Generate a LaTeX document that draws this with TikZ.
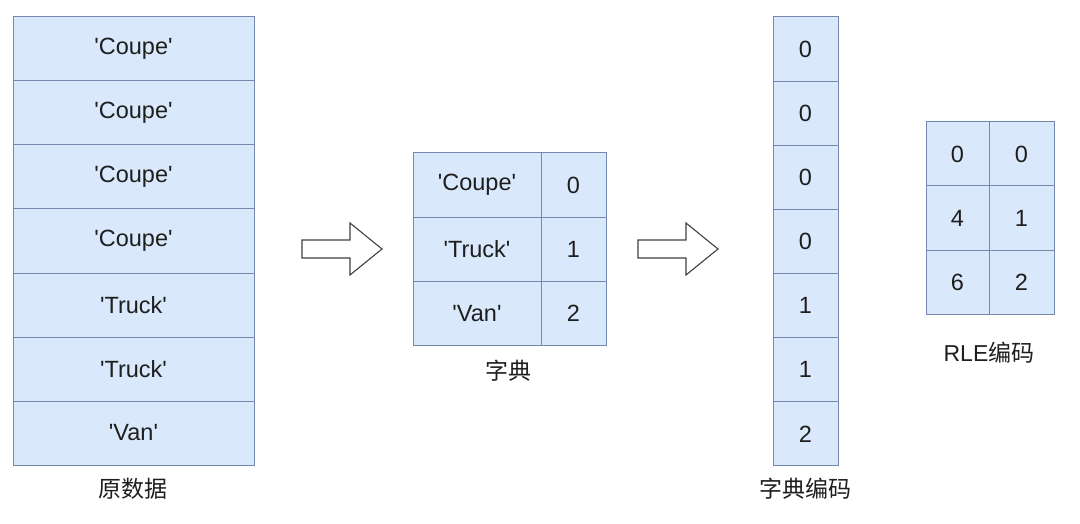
\documentclass[tikz,border=0pt]{standalone}
\usepackage{fontspec}
\setmainfont{Liberation Sans}
\newfontfamily\cjk{Noto Sans CJK SC}
\definecolor{cellfill}{HTML}{DAE8FC}
\definecolor{cellline}{HTML}{7389AD}
\definecolor{txt}{HTML}{1E1E1E}
\newcommand{\sq}{\textquotesingle}
\begin{document}
\begin{tikzpicture}[x=1pt,y=-1pt,
  cell/.style={draw=cellline, fill=cellfill, line width=1pt, minimum height=64pt,
    inner sep=0pt, outer sep=0pt, text=txt, font=\fontsize{23.5}{27}\selectfont},
  lbl/.style={text=txt, inner sep=0pt, font=\fontsize{23}{27}\selectfont},
  bigarrow/.style={draw=black!75, fill=white, line width=1.1pt, line join=miter}]
\useasboundingbox (0,0) rectangle (1080,524);
% original data column
\foreach \t [count=\i] in {Coupe,Coupe,Coupe,Coupe,Truck,Truck,Van} {
  \node[cell, minimum width=241pt] (raw\i) at (133.5, {17+64*(\i-1)+32}) {\sq\t\sq};
}
\node[lbl] (rawlbl) at (133, 489) {\cjk 原数据};
% arrow 1
\draw[bigarrow] (302,240) -- (350,240) -- (350,223) -- (382,249) -- (350,275) -- (350,258) -- (302,258) -- cycle;
% dictionary
\foreach \k/\v [count=\i] in {Coupe/0,Truck/1,Van/2} {
  \node[cell, minimum width=128pt, minimum height=64.3pt] (dk\i) at (477, {153+64.3*(\i-1)+32.15}) {\sq\k\sq};
  \node[cell, minimum width=65pt, minimum height=64.3pt] (dv\i) at (573.5, {153+64.3*(\i-1)+32.15}) {\v};
}
\node[lbl] (dictlbl) at (508, 371) {\cjk 字典};
% arrow 2
\draw[bigarrow] (638,240) -- (686,240) -- (686,223) -- (718,249) -- (686,275) -- (686,258) -- (638,258) -- cycle;
% dictionary encoding column
\foreach \v [count=\i] in {0,0,0,0,1,1,2} {
  \node[cell, minimum width=65pt, minimum height=64.14pt] (enc\i) at (805.5, {17+64.14*(\i-1)+32.07}) {\v};
}
\node[lbl] (enclbl) at (805, 489) {\cjk 字典编码};
% RLE table
\foreach \a/\b [count=\i] in {0/0,4/1,6/2} {
  \node[cell, minimum width=63pt] (ra\i) at (957.5, {122+64*(\i-1)+32}) {\a};
  \node[cell, minimum width=65pt] (rb\i) at (1021.5, {122+64*(\i-1)+32}) {\b};
}
\node[lbl] (rlelbl) at (989, 353) {RLE{\cjk 编码}};
\end{tikzpicture}
\end{document}
